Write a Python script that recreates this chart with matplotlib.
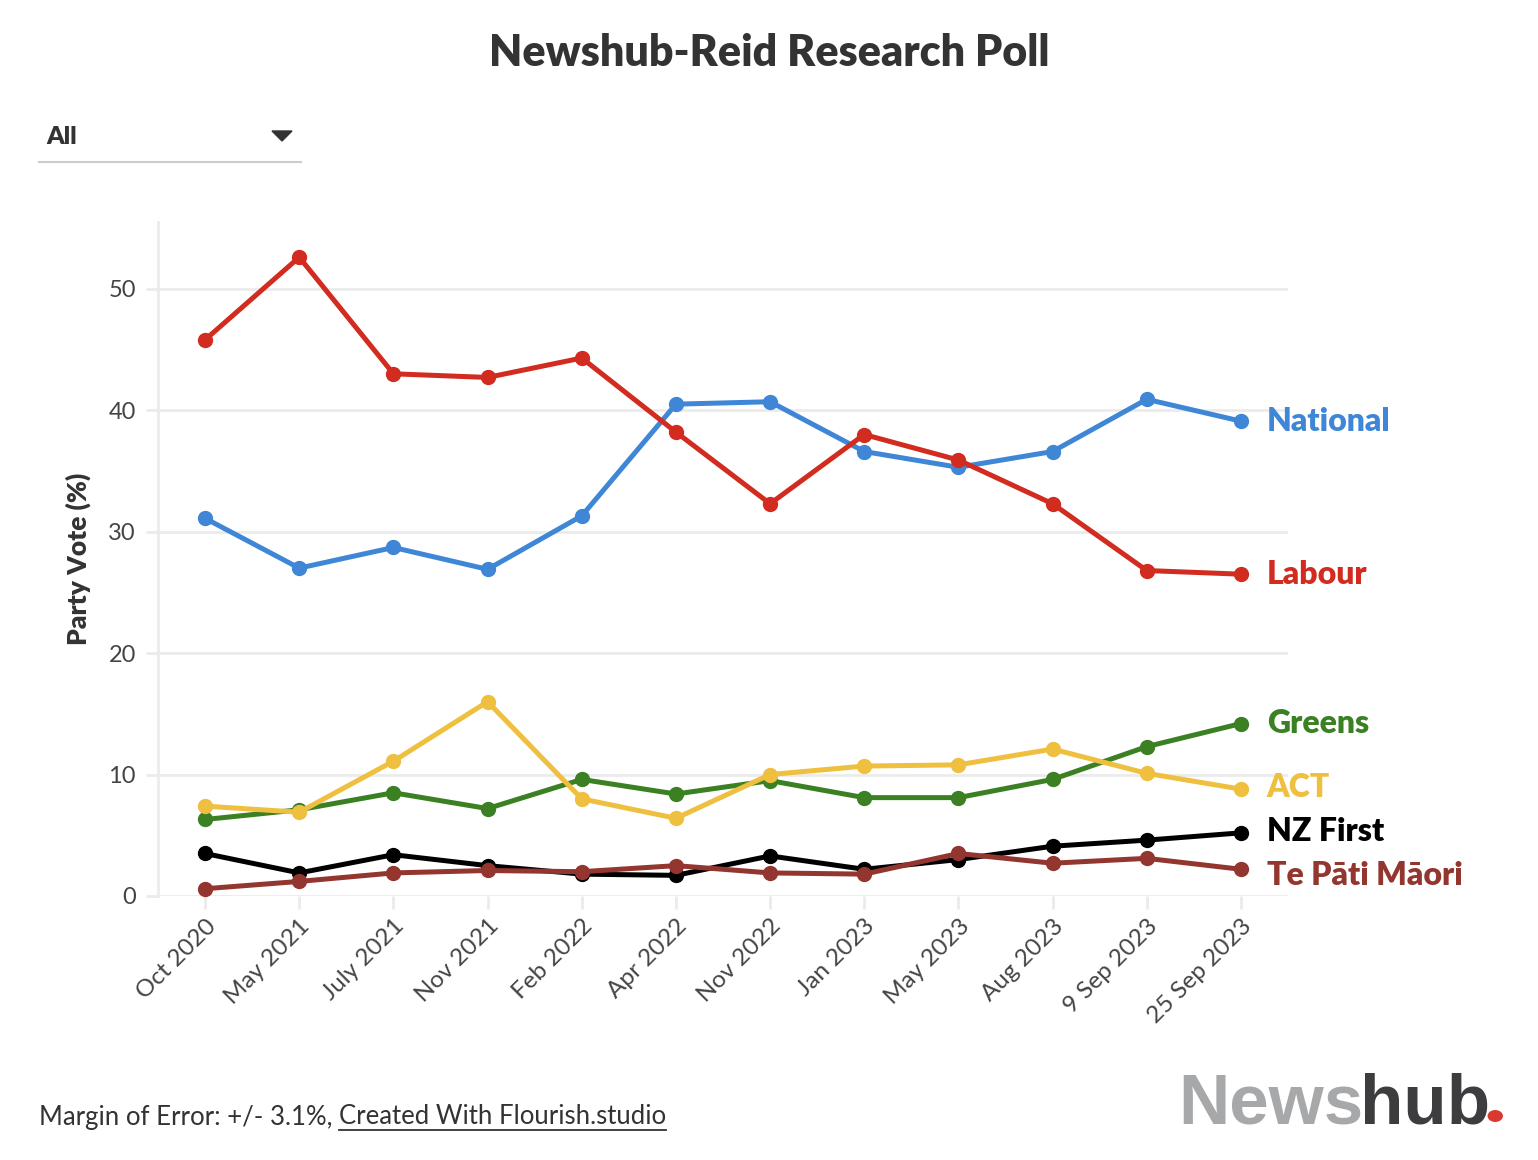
import matplotlib
matplotlib.use("Agg")
import matplotlib.pyplot as plt
from matplotlib.patches import Polygon, Circle
from matplotlib.lines import Line2D

plt.rcParams['font.family'] = ['Lato', 'DejaVu Sans']

polls = ["Oct 2020", "May 2021", "July 2021", "Nov 2021", "Feb 2022", "Apr 2022",
         "Nov 2022", "Jan 2023", "May 2023", "Aug 2023", "9 Sep 2023", "25 Sep 2023"]

national = [31.1, 27.0, 28.7, 26.9, 31.3, 40.5, 40.7, 36.6, 35.3, 36.6, 40.9, 39.1]
labour = [45.8, 52.6, 43.0, 42.7, 44.3, 38.2, 32.3, 38.0, 35.9, 32.3, 26.8, 26.5]
greens = [6.3, 7.1, 8.5, 7.2, 9.6, 8.4, 9.5, 8.1, 8.1, 9.6, 12.3, 14.2]
act = [7.4, 6.9, 11.1, 16.0, 8.0, 6.4, 10.0, 10.7, 10.8, 12.1, 10.1, 8.8]
nz_first = [3.5, 1.9, 3.4, 2.5, 1.8, 1.7, 3.3, 2.2, 3.0, 4.1, 4.6, 5.2]
te_pati_maori = [0.6, 1.2, 1.9, 2.1, 2.0, 2.5, 1.9, 1.8, 3.5, 2.7, 3.1, 2.2]

parties = ["National", "Labour", "Greens", "ACT", "NZ First", "Te Pāti Māori"]
colors = ["#3f87d6", "#d22b1f", "#3b8023", "#efbf3f", "#000000", "#933630"]
series = [national, labour, greens, act, nz_first, te_pati_maori]
# draw order: small parties first, big ones on top
order = [5, 4, 3, 2, 0, 1]

fig = plt.figure(figsize=(15.38, 11.6), dpi=100)
ax = fig.add_axes([158 / 1538, 1 - 896 / 1160, (1288 - 158) / 1538, (896 - 222) / 1160])

x = list(range(len(polls)))
for i in order:
    ax.plot(x, series[i], color=colors[i], lw=3.6, marker='o', ms=10,
            clip_on=False, zorder=3 + i * 0.1, solid_joinstyle='round')

ax.set_xlim(-0.5, len(polls) - 0.5)
ax.set_ylim(0, 55.5)
ax.set_yticks([0, 10, 20, 30, 40, 50])
ax.set_xticks(x)
ax.set_xticklabels(polls, rotation=45, ha='right', rotation_mode='anchor')
ax.grid(axis='y', color='#ebebeb', lw=2)
ax.set_axisbelow(True)
for s in ['top', 'right', 'bottom']:
    ax.spines[s].set_visible(False)
ax.spines['left'].set_color('#ebebeb')
ax.spines['left'].set_linewidth(2)
ax.tick_params(axis='y', length=9, width=2, color='#ebebeb', labelsize=17,
               labelcolor='#444444', pad=7)
ax.tick_params(axis='x', length=9, width=2, color='#ebebeb', labelsize=17.5,
               labelcolor='#444444', pad=5)
ax.set_ylabel("Party Vote (%)", fontsize=19, fontweight='heavy', color='#333333',
              labelpad=12)

# end labels
label_y = {"National": 39.1, "Labour": 26.5, "Greens": 14.2, "ACT": 8.9,
           "NZ First": 5.3, "Te Pāti Māori": 1.7}
for p, c in zip(parties, colors):
    ax.annotate(p, xy=(len(polls) - 1, label_y[p]), xytext=(26, 0),
                textcoords='offset pixels', va='center', ha='left',
                fontsize=23, fontweight='heavy', color=c, annotation_clip=False)

fig.text(0.5, 1 - 53 / 1160, "Newshub-Reid Research Poll", ha='center', va='center',
         fontsize=31, fontweight='heavy', color='#333333')

# dropdown
fig.text(46 / 1538, 1 - 137 / 1160, "All", ha='left', va='center', fontsize=18,
         fontweight='heavy', color='#333333')
fig.add_artist(Polygon([[272 / 1538, 1 - 131 / 1160], [292 / 1538, 1 - 131 / 1160],
                        [282 / 1538, 1 - 141 / 1160]], closed=True,
                       transform=fig.transFigure, color='#333333'))
fig.add_artist(Line2D([39 / 1538, 301 / 1538], [1 - 162 / 1160, 1 - 162 / 1160],
                      transform=fig.transFigure, color='#cccccc', lw=1.5))

# footer
renderer = fig.canvas.get_renderer()
t1 = fig.text(39 / 1538, 1 - 1117 / 1160, "Margin of Error: +/- 3.1%, ", ha='left',
              va='center', fontsize=18.5, color='#333333')
bb = t1.get_window_extent(renderer)
t2 = fig.text(bb.x1 / 1538, 1 - 1117 / 1160, "Created With Flourish.studio", ha='left',
              va='center', fontsize=18.5, color='#333333')
bb2 = t2.get_window_extent(renderer)
fig.add_artist(Line2D([bb2.x0 / 1538, bb2.x1 / 1538], [1 - 1130 / 1160, 1 - 1130 / 1160],
                      transform=fig.transFigure, color='#333333', lw=1.3))

# logo
n1 = fig.text(1178 / 1538, 1 - 1123 / 1160, "News", ha='left', va='baseline',
              fontsize=51, fontweight='bold', color='#a7a8aa',
              family='Liberation Sans')
nb = n1.get_window_extent(renderer)
n2 = fig.text(nb.x1 / 1538 - 3 / 1538, 1 - 1123 / 1160, "hub", ha='left', va='baseline',
              fontsize=51, fontweight='bold', color='#3d3d3f',
              family='Liberation Sans')
hb = n2.get_window_extent(renderer)
fig.add_artist(Circle(((hb.x1 + 5) / 1538, 1 - 1116 / 1160), 7 / 1538,
                      transform=fig.transFigure, color='#d93a2f'))

fig.savefig("out.png", dpi=100, facecolor='white')
